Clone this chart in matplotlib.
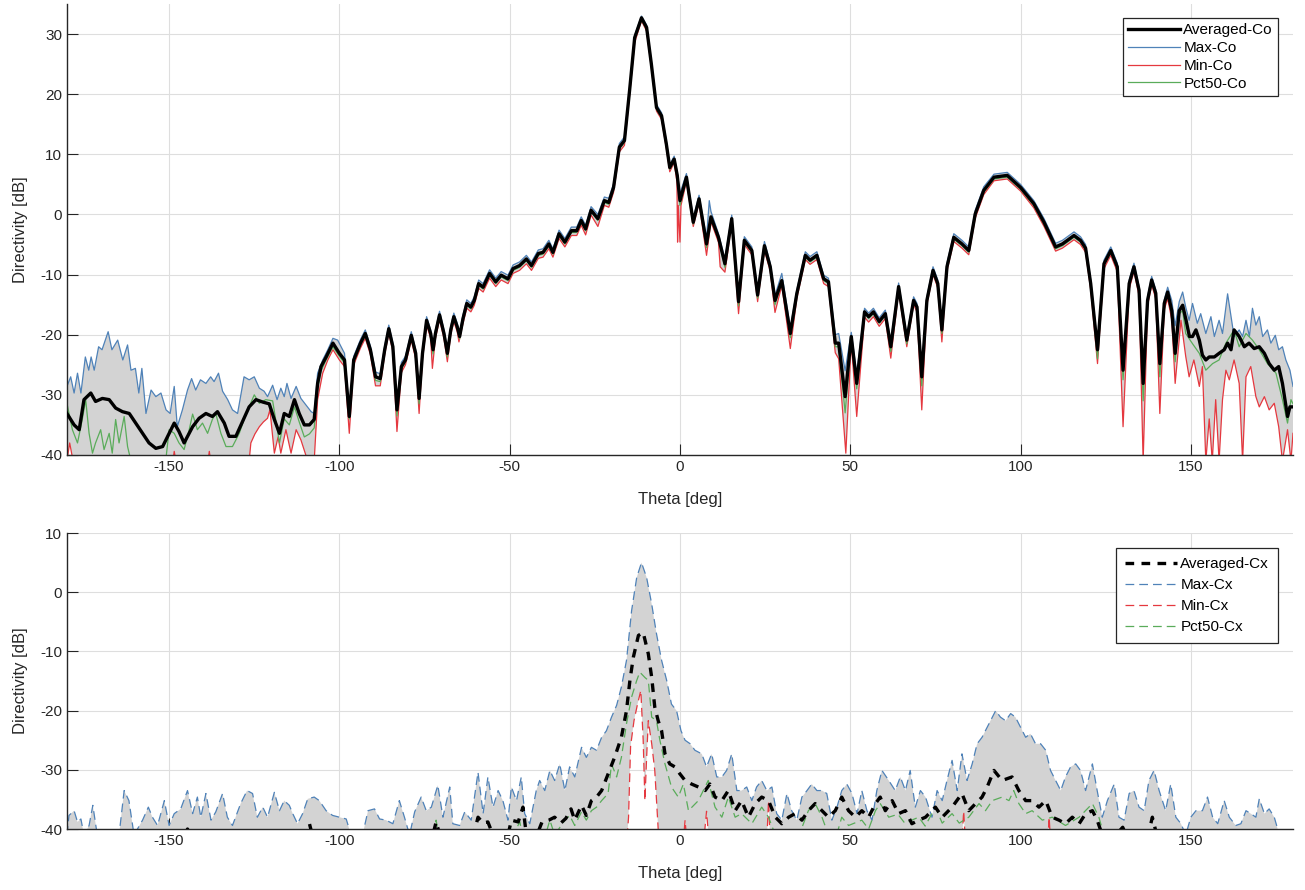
import numpy as np
import matplotlib
matplotlib.use('Agg')
import matplotlib.pyplot as plt

plt.rcParams['font.family'] = ['Liberation Sans', 'DejaVu Sans']
plt.rcParams['axes.unicode_minus'] = False

# (theta [deg], directivity [dB])
avg_co = [(-180, -33.1), (-177.9, -35), (-176.4, -35.8), (-175, -30.8), (-173, -29.7), (-171.6, -31.1),
          (-169.6, -30.6), (-167.6, -30.8), (-165.7, -32.2), (-163.7, -32.8), (-161.7, -33.1), (-159.8, -34.7),
          (-157.8, -36.4), (-155.9, -38), (-153.9, -38.9), (-151.9, -38.6), (-150, -36.4), (-148.5, -34.7),
          (-147.1, -36.1), (-145.6, -38), (-143.1, -35.3), (-141.2, -33.9), (-139.2, -33.1), (-137.3, -33.6),
          (-135.8, -32.8), (-133.8, -34.7), (-132.4, -36.9), (-130.4, -36.9), (-128.4, -34.4), (-126.5, -32),
          (-124.5, -30.8), (-122.5, -31.2), (-120.6, -31.5), (-119.1, -34.1), (-117.6, -36.4), (-116.2, -33.1),
          (-114.7, -33.6), (-113.2, -30.8), (-111.8, -33.1), (-110.3, -35), (-108.8, -35), (-107.4, -34.1),
          (-106.4, -28.1), (-105.4, -25.3), (-103.9, -23.7), (-101.9, -21.4), (-100, -23.1), (-98.5, -24.2),
          (-97.1, -33.6), (-95.8, -24.2), (-93.8, -21.4), (-92.4, -19.8), (-90.9, -22.5), (-89.4, -27),
          (-88, -27.3), (-86.7, -22.5), (-85.5, -19), (-84.3, -22), (-83.1, -32.5), (-81.8, -25.3),
          (-80.6, -24.2), (-78.9, -20.1), (-77.6, -23.1), (-76.6, -30.6), (-75.6, -23.1), (-74.4, -17.6),
          (-73.2, -19.8), (-72.5, -22.5), (-71.8, -19.8), (-70.6, -16.7), (-69.3, -19.8), (-68.3, -23.1),
          (-67.3, -19.2), (-66.4, -17), (-65.4, -18.7), (-64.7, -20.3), (-63.7, -17.3), (-62.6, -14.8),
          (-61.4, -15.4), (-60.4, -14.3), (-59.1, -11.5), (-57.8, -12.1), (-55.9, -9.8), (-54.1, -11.2),
          (-52.5, -10.1), (-50.5, -10.7), (-49, -9), (-47.1, -8.5), (-45.1, -7.4), (-43.6, -8.5),
          (-41.6, -6.5), (-40.2, -6.3), (-38.5, -4.9), (-37.3, -6.3), (-35.5, -3.2), (-33.8, -4.6),
          (-31.9, -2.7), (-30.3, -2.7), (-29, -1), (-27.7, -2.4), (-26.1, 0.7), (-24.1, -0.7),
          (-22.2, 2.3), (-20.9, 2), (-19.5, 4.5), (-17.8, 11.2), (-16.3, 12.3), (-14.8, 20.6),
          (-13.3, 29.4), (-11.3, 32.7), (-9.8, 31.1), (-8.4, 25), (-6.9, 17.8), (-5.4, 16.4),
          (-4, 11.7), (-3, 7.8), (-1.7, 9.2), (-0.8, 6.5), (0, 2.3), (1.9, 6.2), (3.9, -1.3), (5.6, 2.6),
          (7.8, -4.9), (9.1, -0.4), (11.3, -3.8), (13.2, -8.2), (15.2, -0.7), (17.2, -14.5), (18.9, -4.3),
          (21.1, -6), (22.8, -13.4), (24.8, -5.2), (26.5, -8.7), (27.9, -14.3), (29.9, -11), (32.4, -19.8),
          (34.3, -13.2), (36.8, -6.8), (38.2, -7.6), (40.2, -6.8), (42.2, -10.7), (43.6, -11.2),
          (45.6, -21.4), (46.6, -21.4), (48.5, -30.3), (50.3, -20.3), (51.9, -28.1), (54.2, -16.2),
          (55.4, -17), (56.8, -16.2), (58.5, -17.8), (60.3, -16.5), (61.9, -22), (64.2, -12), (66.6, -20.9),
          (68.6, -14.3), (69.6, -15.4), (71, -27), (72.5, -14.3), (74.3, -9.3), (75.7, -11.5), (76.9, -19.2),
          (78.4, -8.7), (80.4, -3.8), (82.8, -4.9), (84.8, -6), (86.7, 0.1), (89.2, 4), (92.2, 6.2),
          (96.1, 6.5), (100, 4.5), (103.9, 1.8), (106.9, -1.3), (110.3, -5.4), (112.3, -4.9), (115.7, -3.5),
          (117.6, -4.3), (119.1, -5.6), (120.6, -11.5), (122.6, -22.5), (124.5, -8.2), (126.5, -6),
          (128.4, -8.7), (130.1, -25.9), (131.9, -11.5), (133.3, -8.7), (134.8, -12.6), (136, -28.1),
          (137.3, -14.3), (138.5, -10.9), (139.7, -13.1), (140.9, -24.8), (142.2, -14.8), (143.2, -12.9),
          (144.4, -16), (145.4, -23.1), (146.6, -16), (147.6, -15.1), (148.6, -17.6), (149.6, -20.3),
          (150.5, -20.3), (151.5, -19.2), (152.5, -20.9), (153.4, -23.4), (154.4, -24.2), (155.4, -23.7),
          (156.9, -23.7), (158.3, -23.1), (159.8, -22.5), (160.8, -21.4), (161.8, -22.5), (162.7, -19.2),
          (164.2, -20.3), (165.7, -22), (167.1, -21.4), (168.6, -22.3), (170.1, -22), (171.6, -23.1),
          (173, -24.8), (174.5, -25.9), (175.8, -25.3), (176.9, -28.1), (178.4, -33.6), (179.1, -32),
          (180, -32)]

max_co = [(-180, -28.6), (-178.9, -27), (-177.9, -29.7), (-176.9, -26.4), (-175.9, -29.7), (-174.6, -23.7),
          (-173.6, -25.9), (-172.9, -23.7), (-172, -25.9), (-170.7, -22), (-169.7, -22.5), (-167.9, -19.5),
          (-166.8, -22.5), (-165.1, -20.9), (-163.6, -24.2), (-162.2, -21.7), (-161.2, -25.9), (-159.9, -25.6),
          (-158.9, -29.7), (-158, -25.6), (-156.8, -33.1), (-155.3, -29.2), (-153.9, -30.3), (-152.4, -29.7),
          (-150.9, -32.5), (-149.7, -33.1), (-148.5, -28.6), (-147.6, -35.3), (-146.1, -32.5), (-144.6, -29.2),
          (-143.4, -27.3), (-142.2, -29.2), (-140.8, -27.5), (-139.2, -28.1), (-137.8, -27), (-136.8, -27.8),
          (-135.5, -26.4), (-134.3, -29.4), (-132.8, -30.8), (-131.4, -32.5), (-129.9, -33.1), (-128, -27),
          (-126.5, -27.5), (-125, -27), (-123.5, -28.9), (-122.1, -29.4), (-121.1, -30.3), (-119.6, -28.4),
          (-118.3, -30.8), (-117.2, -28.9), (-116.2, -30.3), (-115.4, -28.1), (-114.2, -30.6), (-112.7, -28.6),
          (-111.3, -30.6), (-109.8, -31.7), (-108.3, -32.8), (-107.4, -33.1), (-106.4, -26.4), (-104.9, -24.2),
          (-103.4, -22.5), (-101.9, -20.6), (-100.5, -20.9), (-98.5, -23.1), (-97.1, -32.5),
          (-95.8, -23.6), (-93.8, -20.8), (-92.4, -19.2), (-90.9, -21.9), (-89.4, -26.2), (-88, -26.5),
          (-86.7, -21.9), (-85.5, -18.4), (-84.3, -21.4), (-83.1, -31.2), (-81.8, -24.6), (-80.6, -23.6),
          (-78.9, -19.5), (-77.6, -22.5), (-76.6, -29.6), (-75.6, -22.5), (-74.4, -17), (-73.2, -19.2),
          (-72.5, -21.8), (-71.8, -19.2), (-70.6, -16.1), (-69.3, -19.2), (-68.3, -22.3), (-67.3, -18.6),
          (-66.4, -16.4), (-65.4, -18.1), (-64.7, -19.6), (-63.7, -16.7), (-62.6, -14.2), (-61.4, -14.8),
          (-60.4, -13.7), (-59.1, -10.9), (-57.8, -11.5), (-55.9, -9.2), (-54.1, -10.6), (-52.5, -9.5),
          (-50.5, -10.1), (-49, -8.4), (-47.1, -7.9), (-45.1, -6.8), (-43.6, -7.9), (-41.6, -5.9),
          (-40.2, -5.7), (-38.5, -4.3), (-37.3, -5.7), (-35.5, -2.6), (-33.8, -4), (-31.9, -2.1),
          (-30.3, -2.1), (-29, -0.4), (-27.7, -1.8), (-26.1, 1.3), (-24.1, 0), (-22.2, 2.9), (-20.9, 2.7),
          (-19.5, 5.1), (-17.8, 11.8), (-16.3, 12.9), (-14.8, 21.1), (-13.3, 29.8), (-11.3, 33),
          (-9.8, 31.5), (-8.4, 25.5), (-6.9, 18.3), (-5.4, 16.9), (-4, 12.2), (-3, 8.3), (-1.7, 9.7),
          (-0.8, 7), (0, 3.5), (1.9, 6.8), (3.9, -0.6), (5.6, 3.2), (7.8, -4), (8.6, 2.3), (9.1, 0.5),
          (11.3, -3.2), (13.2, -7.4), (15.2, -0.1), (17.2, -13.5), (18.9, -3.7), (21.1, -5.4), (22.8, -12.5),
          (24.8, -4.5), (26.5, -8.1), (27.9, -13.5), (29.9, -9.8), (32.4, -18.9), (34.3, -12.6), (36.8, -6.2),
          (38.2, -7), (40.2, -6.2), (42.2, -10.1), (43.6, -10.6), (45.6, -20), (46.6, -19.8), (48.5, -26),
          (50.3, -19.6), (51.9, -26.5), (54.2, -15.6), (55.4, -16.4), (56.8, -15.6), (58.5, -17.2),
          (60.3, -15.9), (61.9, -21.2), (64.2, -11.4), (66.6, -20.2), (68.6, -13.7), (69.6, -14.8),
          (71, -25.8), (72.5, -13.7), (74.3, -8.7), (75.7, -10.9), (76.9, -18.5), (78.4, -8.1), (80.4, -3.2),
          (82.8, -4.3), (84.8, -5.4), (86.7, 0.7), (89.2, 4.6), (92.2, 6.7), (96.1, 7), (100, 5),
          (103.9, 2.3), (106.9, -0.7), (110.3, -4.8), (112.3, -4.3), (115.7, -2.9), (117.6, -3.7),
          (119.1, -5), (120.6, -10.9), (122.6, -21.5), (124.5, -7.6), (126.5, -5.4), (128.4, -8.1),
          (130.1, -24.8), (131.9, -10.9), (133.3, -8.1), (134.8, -12), (136, -27), (137.3, -13.7),
          (138.5, -10.3), (139.7, -12.5), (140.9, -23.8), (142.2, -14.2), (143.2, -12.1), (144.4, -14.3),
          (145.4, -18.5), (146.6, -14.5), (147.6, -12.9), (148.5, -15.4), (149.5, -17.6), (150.5, -14.8),
          (151.9, -18.1), (152.9, -16.5), (154.4, -19.8), (155.9, -17), (156.9, -20.3), (158.3, -17.6),
          (159.3, -19.8), (160.8, -13.2), (161.8, -17), (162.7, -20.3), (164.2, -19.2), (165.2, -20.3),
          (166.2, -17.6), (167.2, -20.3), (168.1, -15.6), (169.1, -18.4), (170.1, -17), (171.1, -20.3),
          (172.5, -19.2), (173.5, -21.4), (174.8, -20.1), (175.8, -22.5), (176.9, -22), (177.9, -24.2),
          (179.1, -25.9), (180, -28.6)]

min_co = [(-180, -41), (-179.2, -38), (-178.2, -41), (-148.9, -41), (-148.5, -39.4), (-148, -41),
          (-138.6, -41), (-138.2, -39.4), (-137.8, -41), (-126.5, -41), (-126, -38), (-124.8, -36.5),
          (-123.5, -35.3), (-122.3, -34.5), (-121.1, -33.9), (-120.4, -32.5), (-119.6, -37), (-119.1, -39.7),
          (-118, -37), (-117.2, -39.7), (-115.7, -35.8), (-114.2, -39.7), (-112.7, -35.8), (-111.3, -37.5),
          (-109.3, -41), (-107.4, -41), (-106.4, -30.8), (-104.9, -26.4), (-103.4, -24.2), (-101.9, -22.5),
          (-100, -24.2), (-98.5, -25.3), (-97.1, -36.4), (-95.8, -25), (-93.8, -22.2), (-92.4, -20.6),
          (-90.9, -23.3), (-89.4, -28.5), (-88, -28.5), (-86.7, -23.3), (-85.5, -19.8), (-84.3, -22.8),
          (-83.1, -36.1), (-81.8, -26.3), (-80.6, -25), (-78.9, -20.9), (-77.6, -24), (-76.6, -33.1),
          (-75.6, -24), (-74.4, -18.4), (-73.2, -20.6), (-72.7, -25.6), (-71.8, -20.6), (-70.6, -17.5),
          (-69.3, -20.6), (-68.3, -24.5), (-67.3, -20), (-66.4, -17.8), (-65.4, -19.5), (-64.9, -21.2),
          (-63.7, -18.1), (-62.6, -15.6), (-61.4, -16.2), (-60.4, -15.1), (-59.1, -12.3), (-57.8, -12.9),
          (-55.9, -10.6), (-54.1, -12), (-52.5, -10.9), (-50.5, -11.5), (-49, -9.8), (-47.1, -9.3),
          (-45.1, -8.2), (-43.6, -9.3), (-41.6, -7.3), (-40.2, -7.1), (-38.5, -5.7), (-37.3, -7.1),
          (-35.5, -4), (-33.8, -5.4), (-31.9, -3.5), (-30.3, -3.5), (-29, -1.8), (-27.7, -3.4), (-26.1, -0.1),
          (-24.1, -2), (-22.2, 1.5), (-20.9, 1.2), (-19.5, 3.7), (-17.8, 10.4), (-16.3, 11.5), (-14.8, 19.8),
          (-13.3, 28.6), (-11.3, 32.2), (-9.8, 30.5), (-8.4, 24.4), (-6.9, 17.2), (-5.4, 15.8), (-4, 11),
          (-3, 7.1), (-1.7, 8.6), (-0.9, 5.5), (-0.7, -4.6), (-0.5, 1.5), (0, -4.6), (0.3, 1.5), (1.9, 5.5),
          (3.9, -2), (5.6, 1.9), (7.8, -6.8), (9.1, -1.2), (11.3, -4.6), (11.8, -8.7), (13.2, -9.6),
          (15.2, -1.4), (17.2, -16.5), (18.9, -5), (21.1, -6.7), (22.8, -14.5), (24.8, -6), (26.5, -9.4),
          (27.9, -16.3), (29.9, -11.8), (32.4, -22.3), (34.3, -14), (36.8, -7.5), (38.2, -8.3), (40.2, -7.5),
          (42.2, -11.5), (43.6, -12), (45.6, -23), (46.6, -24), (48.7, -39.7), (50.3, -21.2), (51.9, -33.6),
          (54.2, -17.1), (55.4, -17.9), (56.8, -17), (58.5, -18.6), (60.3, -17.3), (61.9, -23.9),
          (64.2, -12.8), (66.6, -22), (68.6, -15), (69.6, -16.2), (71, -32.5), (72.5, -15), (74.3, -10),
          (75.7, -12.2), (76.9, -21.2), (78.4, -9.4), (80.4, -4.5), (82.8, -5.6), (84.8, -6.7), (86.7, -0.6),
          (89.2, 3.3), (92.2, 5.6), (96.1, 5.9), (100, 3.9), (103.9, 1.1), (106.9, -2), (110.3, -6.1),
          (112.3, -5.6), (115.7, -4.2), (117.6, -5), (119.1, -6.3), (120.6, -12.5), (122.6, -24.8),
          (124.5, -9), (126.5, -6.8), (128.4, -9.5), (130.1, -35.3), (131.9, -12.4), (133.3, -9.5),
          (134.8, -13.5), (136, -41), (137.3, -15.2), (138.5, -11.7), (139.7, -14), (140.9, -33.1),
          (142.2, -15.8), (143.2, -14), (144.4, -17.5), (145.4, -28.1), (147.1, -17.6), (148.5, -23.6),
          (149.5, -27), (150.9, -24.2), (152.5, -28.6), (153.4, -25.3), (154.4, -41), (155.4, -34),
          (156.3, -41), (157.3, -30.8), (158.3, -41), (159.3, -30.8), (160.3, -25.9), (161.3, -27.5),
          (162.7, -24.2), (164.2, -28.1), (165.2, -41), (166.2, -27), (167.6, -25.3), (169.1, -30.3),
          (170.1, -32), (171.6, -30.3), (173, -32.5), (174.5, -31.4), (175.8, -35.3), (176.9, -41),
          (178.4, -35.8), (179.4, -41), (180, -36.4)]

p50_co = [(-179.9, -31.7), (-178.4, -35.8), (-176.9, -38), (-175.5, -34.1), (-174.5, -30.8), (-173.5, -36.4),
          (-172.5, -39.7), (-171.6, -38), (-170.1, -35.8), (-169.1, -39.1), (-167.6, -36.4), (-166.7, -39.7),
          (-165.7, -34.1), (-164.7, -38), (-163.2, -33.6), (-162.2, -38.6), (-161.2, -41), (-151, -41),
          (-150, -35.8), (-148.5, -36.4), (-147.1, -38), (-145.6, -39.1), (-144.1, -35.8), (-143.1, -33.2),
          (-141.7, -35.8), (-140.2, -34.7), (-138.7, -36.4), (-137.3, -34.1), (-136.3, -33.1), (-134.8, -36.4),
          (-133.3, -38.6), (-131.4, -38.6), (-129.4, -36.4), (-128, -34.1), (-126.5, -32), (-125, -30),
          (-123.5, -31.4), (-121.6, -30.8), (-119.6, -31), (-117.6, -38), (-116.2, -34), (-114.7, -35),
          (-113.2, -32), (-111.8, -34.5), (-110.3, -37), (-108.8, -36.5), (-107.4, -35.5), (-106.4, -29),
          (-105.4, -26), (-103.9, -24.2), (-101.9, -22), (-100, -23.6), (-98.5, -24.7), (-97.1, -34),
          (-95.8, -24.5), (-93.8, -21.7), (-92.4, -20.1), (-90.9, -22.8), (-89.4, -27.6), (-88, -27.8),
          (-86.7, -22.8), (-85.5, -19.3), (-84.3, -22.4), (-83.1, -33.5), (-81.8, -25.7), (-80.6, -24.5),
          (-78.9, -20.4), (-77.6, -23.5), (-76.6, -31.5), (-75.6, -23.5), (-74.4, -17.9), (-73.2, -20.1),
          (-72.5, -23.2), (-71.8, -20.1), (-70.6, -17), (-69.3, -20.1), (-68.3, -23.7), (-67.3, -19.5),
          (-66.4, -17.3), (-65.4, -19), (-64.7, -20.7), (-63.7, -17.6), (-62.6, -15.1), (-61.4, -15.7),
          (-60.4, -14.6), (-59.1, -11.8), (-57.8, -12.4), (-55.9, -10.1), (-54.1, -11.5), (-52.5, -10.4),
          (-50.5, -11), (-49, -9.3), (-47.1, -8.8), (-45.1, -7.7), (-43.6, -8.8), (-41.6, -6.8), (-40.2, -6.6),
          (-38.5, -5.2), (-37.3, -6.6), (-35.5, -3.5), (-33.8, -4.9), (-31.9, -3), (-30.3, -3), (-29, -1.3),
          (-27.7, -2.7), (-26.1, 0.4), (-24.1, -1), (-22.2, 2), (-20.9, 1.7), (-19.5, 4.2), (-17.8, 10.9),
          (-16.3, 12), (-14.8, 20.3), (-13.3, 29.1), (-11.3, 32.4), (-9.8, 30.8), (-8.4, 24.7), (-6.9, 17.5),
          (-5.4, 16.1), (-4, 11.4), (-3, 7.5), (-1.7, 8.9), (-0.8, 6.2), (0, 1.5), (1.9, 5.9), (3.9, -1.6),
          (5.6, 2.3), (7.8, -5.5), (9.1, -0.7), (11.3, -4.1), (13.2, -8.8), (15.2, -1), (17.2, -15.2),
          (18.9, -4.6), (21.1, -6.3), (22.8, -13.9), (24.8, -5.5), (26.5, -9), (27.9, -15), (29.9, -11.3),
          (32.4, -20.5), (34.3, -13.5), (36.8, -7.1), (38.2, -7.9), (40.2, -7.1), (42.2, -11), (43.6, -11.5),
          (45.6, -22), (46.6, -22), (48.5, -33), (50.3, -20.6), (51.9, -29), (54.2, -16.5), (55.4, -17.3),
          (56.8, -16.5), (58.5, -18.1), (60.3, -16.8), (61.9, -22.8), (64.2, -12.3), (66.6, -21.5),
          (68.6, -14.6), (69.6, -15.7), (71, -28.5), (72.5, -14.6), (74.3, -9.6), (75.7, -11.8), (76.9, -19.8),
          (78.4, -9), (80.4, -4.1), (82.8, -5.2), (84.8, -6.3), (86.7, -0.2), (89.2, 3.7), (92.2, 5.9),
          (96.1, 6.2), (100, 4.2), (103.9, 1.5), (106.9, -1.6), (110.3, -5.7), (112.3, -5.2), (115.7, -3.8),
          (117.6, -4.6), (119.1, -5.9), (120.6, -11.8), (122.6, -24), (124.5, -8.5), (126.5, -6.3),
          (128.4, -9), (130.1, -27.5), (131.9, -11.8), (133.3, -9), (134.8, -12.9), (136, -31),
          (137.3, -14.6), (138.5, -11.2), (139.7, -13.4), (140.9, -27), (142.2, -15.1), (143.2, -13.2),
          (144.4, -16.5), (145.4, -24.5), (146.6, -16.5), (147.6, -16), (148.5, -19.8), (150.5, -21.5),
          (152.5, -23.1), (154.4, -25.9), (156.4, -24.8), (158.3, -24.2), (160.3, -21.4), (162.7, -19.2),
          (164.2, -22), (166.2, -19.8), (168.1, -20.9), (170.1, -22.5), (172.5, -24.8), (175, -26.4),
          (176.9, -30.8), (178.4, -34.7), (179.4, -30.8), (180, -31.5)]

avg_cx = [(-180, -42), (-146, -42), (-144.6, -40), (-143, -42), (-110, -42), (-108.8, -39.1), (-107.5, -42),
          (-73, -42), (-71.6, -38.8), (-70, -42), (-61, -42), (-59.3, -38), (-57.8, -39), (-56.4, -38.8),
          (-54.9, -41), (-50.5, -41), (-49.5, -38.5), (-47.5, -38.8), (-46.1, -36.3), (-45.1, -41),
          (-42, -41), (-40.5, -38.8), (-38.5, -38.5), (-36.8, -38), (-35, -39), (-33.5, -38.2), (-32, -36.6),
          (-30.9, -38.5), (-28.9, -36), (-27.5, -37.7), (-26, -35.2), (-24.5, -34.6), (-23, -33.5),
          (-21.1, -30.7), (-19.2, -27.9), (-17.2, -24.5), (-15.7, -20), (-14.7, -14.9), (-13.7, -11),
          (-12.2, -7.3), (-10.8, -6.8), (-9.3, -10.4), (-8.3, -14.4), (-7.4, -19.4), (-6.4, -21.7),
          (-5.4, -23.4), (-4.4, -27.3), (-3, -29), (-1.5, -29.5), (0, -30.7), (1.5, -31.8), (3.4, -32.4),
          (5.4, -32.9), (7.4, -33.5), (8.8, -32.4), (10.3, -34.6), (12.3, -35.2), (14.2, -33.5),
          (16.2, -36.9), (18.1, -35.2), (20.1, -38), (22.1, -35.7), (24, -34.6), (26, -35.2), (28, -38),
          (29.9, -39.1), (31.9, -38), (33.8, -37.4), (35.8, -38.5), (37.7, -36.9), (39.7, -35.7),
          (41.7, -36.9), (43.6, -38), (45.6, -36.9), (47.5, -34.6), (49.5, -36.9), (51.5, -38),
          (53.4, -36.9), (55.4, -38), (57.4, -35.7), (58.8, -34.6), (60.3, -36.9), (62.3, -35.2),
          (64.2, -37.4), (66.2, -36.9), (68.1, -39.1), (70.1, -38.5), (72.1, -38), (75, -36.3), (77, -38),
          (79.9, -36.3), (82.8, -34), (84.8, -36.9), (86.8, -35.7), (88.7, -34.6), (90.2, -32.9),
          (92.2, -30.1), (94.6, -31.8), (97.5, -31.2), (99.5, -33.5), (101.5, -35.2), (103.4, -35.2),
          (105.4, -36.3), (107.4, -35.2), (109.3, -38), (111.3, -38.5), (113.2, -39.1), (115.2, -38),
          (117.2, -39.1), (119.1, -37.4), (121.1, -36.9), (122.5, -38.5), (124, -41), (128, -41),
          (130, -39.7), (131, -41), (137.5, -41), (138.7, -38), (140, -41), (180, -41)]

max_cx = [(-180, -41), (-179.4, -37.7), (-177.9, -36.9), (-176.9, -38.8), (-175.9, -38.3), (-175, -41),
          (-173.5, -39.4), (-172.4, -36), (-171.1, -41), (-164.7, -41), (-163.2, -33.5), (-161.8, -35.2),
          (-160.3, -41), (-157.8, -38.5), (-156.1, -36.3), (-154.9, -38), (-153.4, -39.4), (-151.4, -35.2),
          (-150, -39.4), (-148.5, -37.4), (-146.6, -36.6), (-144.6, -33.5), (-143.1, -37.4), (-141.7, -34.6),
          (-140.7, -38), (-139.2, -34), (-137.7, -38.5), (-136.3, -37.1), (-134.3, -34), (-132.9, -38),
          (-131.4, -39.4), (-129, -35.7), (-127.1, -33.5), (-125.5, -34), (-124.1, -38), (-122.5, -36.3),
          (-121.1, -38), (-119.1, -33.8), (-117.6, -36.9), (-116.2, -35.2), (-114.7, -36), (-113.7, -37.4),
          (-112.3, -39.1), (-110.8, -37.4), (-109.3, -34.9), (-107.4, -34.6), (-105.9, -35.2), (-103.9, -36.9),
          (-102, -37.7), (-100, -38), (-98, -38.3), (-96.6, -41), (-93.2, -41), (-91.6, -36.9), (-89.7, -36.6),
          (-88.2, -38.3), (-86.3, -38.5), (-84.3, -39.1), (-82.4, -35.2), (-80.9, -38), (-79.4, -41),
          (-77.9, -37.1), (-76, -34.6), (-74.5, -36.9), (-73, -36.3), (-71.1, -32.6), (-69.6, -38),
          (-67.6, -32.9), (-66.7, -39.1), (-64.7, -39.4), (-63.2, -37.1), (-61.3, -38.5), (-59.3, -30.4),
          (-57.8, -37.4), (-56.4, -31.2), (-54.9, -36.3), (-53.4, -33.5), (-52, -35.2), (-50.5, -38.5),
          (-49.5, -32.9), (-48, -35.2), (-46.6, -31.2), (-45.6, -37.4), (-44.1, -39.1), (-42.2, -33.5),
          (-41.2, -31.8), (-39.7, -33.5), (-38.2, -30.1), (-36.8, -31.8), (-35.3, -29), (-33.8, -33.5),
          (-32.4, -29.5), (-30.9, -31.2), (-28.9, -26.2), (-27.5, -27.9), (-26, -26.2), (-24.5, -26.7),
          (-23, -24.5), (-21.6, -23.4), (-20.1, -21.1), (-18.6, -19.1), (-17.2, -16), (-15.7, -11.5),
          (-14.2, -3.1), (-12.7, 2.5), (-11.3, 5), (-9.8, 2.5), (-8.3, -2), (-6.9, -7), (-5.4, -11.5),
          (-3.9, -14.9), (-2.5, -18.9), (-1, -20), (0.3, -23.4), (1.5, -25), (3, -25.6), (4.4, -26.7),
          (6.4, -27.3), (7.8, -29.5), (9.3, -27.3), (10.8, -31.2), (12.3, -31.2), (13.7, -30.1),
          (15.2, -27.3), (16.7, -33.5), (18.1, -33.5), (19.6, -32.9), (21.1, -35.2), (22.5, -32.9),
          (24, -31.8), (25.5, -33.5), (27, -32.9), (28.4, -37.4), (29.9, -38.5), (31.4, -34), (32.8, -36.9),
          (34.3, -38.5), (35.8, -34.6), (37.3, -33.5), (38.7, -32.4), (40.2, -33.5), (41.7, -33.5),
          (43.1, -34), (44.6, -38.5), (46.1, -36.3), (47.5, -33.5), (49, -32.4), (50.5, -34), (52, -37.4),
          (53.4, -33.5), (54.9, -36.9), (56.4, -38.5), (57.8, -33.5), (59.3, -30.1), (61.3, -31.8),
          (63.2, -33.5), (64.7, -31.2), (66.2, -33.5), (67.6, -30.1), (69.1, -36.3), (70.6, -33.5),
          (72.1, -34.6), (74, -38), (75.5, -33.5), (77, -35.2), (78.4, -31.8), (79.9, -28.4), (81.4, -33.5),
          (82.8, -27.3), (84.3, -31.8), (85.8, -29), (87.25, -25.6), (88.7, -24.5), (90.2, -22.8),
          (91.7, -21.1), (92.7, -20), (94.1, -21.1), (95.6, -21.7), (97.1, -20.5), (98.5, -21.1),
          (100, -22.8), (101.5, -24.5), (102.9, -23.9), (104.4, -25.6), (105.9, -25.6), (107.4, -26.7),
          (108.8, -30.1), (110.3, -31.8), (111.8, -33.5), (113.2, -31.2), (114.7, -29.5), (116.2, -29),
          (117.6, -30.1), (119.1, -33.5), (121.1, -29), (122.5, -33.5), (124, -38), (125.5, -35.2),
          (127.5, -32.4), (128.9, -38), (130.4, -38.5), (131.9, -34), (133.3, -33.5), (134.8, -36.3),
          (136.3, -36.9), (137.7, -31.8), (139.2, -30.1), (140.7, -33.5), (142.6, -36.9), (144.1, -32.4),
          (145.6, -38), (147.1, -39.1), (148.5, -41), (150, -38), (151.5, -36.9), (153.4, -36.9),
          (154.9, -34.6), (156.4, -38), (157.9, -39.1), (159.8, -35.2), (161.3, -38), (163.2, -39.4),
          (164.7, -39.1), (166.2, -36.9), (167.6, -37.4), (169.1, -38), (170.1, -34.9), (171.6, -37.4),
          (173, -36.6), (174.5, -38), (176, -41), (180, -41)]

min_cx = [(-180, -42), (-15.6, -42), (-15.1, -38), (-14.5, -26), (-13.5, -21.7), (-12.5, -19), (-11.5, -16.6),
          (-10.8, -25), (-10.3, -35.2), (-9.8, -28), (-9.3, -21.7), (-8.3, -25.6), (-7.4, -30.1), (-6.6, -38),
          (-6.2, -42), (1, -42), (1.5, -38.5), (2, -42), (7, -42), (7.8, -37), (8.5, -42), (25.5, -42),
          (26, -35.2), (26.5, -42), (82.8, -42), (83.3, -37), (83.8, -42), (108, -42), (108.4, -38),
          (108.8, -42), (180, -42)]

p50_cx = [(-180, -42), (-72.5, -42), (-71.6, -38.5), (-70.6, -42), (-50, -42), (-47, -38.8), (-46, -42),
          (-40, -42), (-38.2, -38.5), (-36.8, -41), (-33.8, -38.5), (-32.4, -37.7), (-30.9, -39.4),
          (-28.9, -37.1), (-27.5, -38.5), (-26, -36.9), (-24.5, -36.3), (-23, -35.2), (-21.1, -34),
          (-20.1, -29), (-18.6, -31.2), (-17.2, -27.9), (-15.7, -22.2), (-14.2, -17.7), (-12.7, -14.9),
          (-11.8, -13.5), (-10.3, -14.4), (-9.3, -14.9), (-8.3, -21.1), (-6.9, -21.7), (-5.9, -25),
          (-4.4, -29), (-2.5, -32.9), (-0.5, -34.6), (1, -32.4), (2.5, -36.9), (5.4, -35.2), (8.3, -31.8),
          (10.3, -36.3), (12.3, -38), (14.2, -34.6), (16.2, -38), (18.1, -37.4), (21.1, -39.1), (24, -36.3),
          (26, -38), (28, -41), (35, -41), (37.7, -36.9), (39.7, -35.7), (41.7, -38), (43.6, -41), (46, -41),
          (47.5, -38), (49.5, -39.4), (53.4, -38.5), (55.4, -40), (57.4, -36.9), (58.8, -35.7), (61.3, -38),
          (64, -37.5), (66, -39), (70.1, -38), (72, -39.5), (75, -36.3), (77, -39), (79.9, -37.4), (82, -39),
          (84.8, -38), (87.8, -35.7), (89.7, -36.9), (91.7, -35.2), (94.6, -34.6), (96.6, -35.2), (98, -33.5),
          (99.5, -35.7), (101.5, -37.4), (103.4, -36.9), (106.4, -38.5), (109.3, -38), (113.2, -39.4),
          (117.2, -38), (121.1, -35.7), (123, -38), (125, -42), (180, -42)]

x_ticks = [-150, -100, -50, 0, 50, 100, 150]
co_yticks = [-40, -30, -20, -10, 0, 10, 20, 30]
cx_yticks = [-40, -30, -20, -10, 0, 10]

c_max = '#4f82b8'
c_min = '#e5383f'
c_p50 = '#5aac5a'
c_fill = '#d3d3d3'
ink = '#262626'


def xy(pairs):
    a = np.array(pairs, dtype=float)
    return a[:, 0], a[:, 1]


def style(ax, ylim, yticks):
    ax.set_xlim(-180, 180)
    ax.set_ylim(*ylim)
    ax.set_xticks(x_ticks)
    ax.set_yticks(yticks)
    ax.grid(True, color='#dedede', lw=0.8)
    ax.set_axisbelow(True)
    for s in ('top', 'right'):
        ax.spines[s].set_visible(False)
    for s in ('left', 'bottom'):
        ax.spines[s].set_color(ink)
        ax.spines[s].set_linewidth(1.0)
    ax.tick_params(direction='in', length=8, width=0.8, colors=ink, labelsize=11,
                   labelcolor=ink, top=False, right=False)
    ax.set_xlabel('Theta [deg]', fontsize=12, color=ink, labelpad=13)
    ax.set_ylabel('Directivity [dB]', fontsize=12, color=ink, labelpad=9)


fig = plt.figure(figsize=(13.05, 8.9), dpi=100)
ax1 = fig.add_axes([0.0513, 0.4888, 0.9395, 0.5067])
ax2 = fig.add_axes([0.0513, 0.0685, 0.9395, 0.3326])

# --- co-polar
mt, mv = xy(max_co)
nt, nv = xy(min_co)
ax1.fill(np.r_[mt, nt[::-1]], np.r_[mv, nv[::-1]], color=c_fill, lw=0, zorder=1)
h_max, = ax1.plot(mt, mv, color=c_max, lw=0.9, zorder=2, solid_joinstyle='round')
h_min, = ax1.plot(nt, nv, color=c_min, lw=0.9, zorder=2, solid_joinstyle='round')
h_p50, = ax1.plot(*xy(p50_co), color=c_p50, lw=0.9, zorder=2, solid_joinstyle='round')
h_avg, = ax1.plot(*xy(avg_co), color='black', lw=2.4, zorder=3, solid_joinstyle='round')
style(ax1, (-40, 35), co_yticks)
leg = ax1.legend([h_avg, h_max, h_min, h_p50], ['Averaged-Co', 'Max-Co', 'Min-Co', 'Pct50-Co'],
                 loc='upper right', bbox_to_anchor=(0.988, 0.969), borderaxespad=0,
                 fontsize=11, handlelength=3.4, handletextpad=0.2, labelspacing=0.25,
                 fancybox=False, framealpha=1, edgecolor=ink, borderpad=0.35)
leg.get_frame().set_linewidth(0.9)

# --- cross-polar
mt, mv = xy(max_cx)
nt, nv = xy(min_cx)
ax2.fill(np.r_[mt, nt[::-1]], np.r_[mv, nv[::-1]], color=c_fill, lw=0, zorder=1)
h_max, = ax2.plot(mt, mv, color=c_max, lw=0.9, ls=(0, (7, 4)), zorder=2)
h_min, = ax2.plot(nt, nv, color=c_min, lw=0.9, ls=(0, (7, 4)), zorder=2)
h_p50, = ax2.plot(*xy(p50_cx), color=c_p50, lw=0.9, ls=(0, (7, 4)), zorder=2)
h_avg, = ax2.plot(*xy(avg_cx), color='black', lw=2.4, ls=(0, (2.6, 2.2)), zorder=3)
style(ax2, (-40, 10), cx_yticks)
leg = ax2.legend([h_avg, h_max, h_min, h_p50], ['Averaged-Cx', 'Max-Cx', 'Min-Cx', 'Pct50-Cx'],
                 loc='upper right', bbox_to_anchor=(0.988, 0.949), borderaxespad=0,
                 fontsize=11, handlelength=3.4, handletextpad=0.2, labelspacing=0.45,
                 fancybox=False, framealpha=1, edgecolor=ink, borderpad=0.6)
leg.get_frame().set_linewidth(0.9)

fig.savefig('out.png', dpi=100)
